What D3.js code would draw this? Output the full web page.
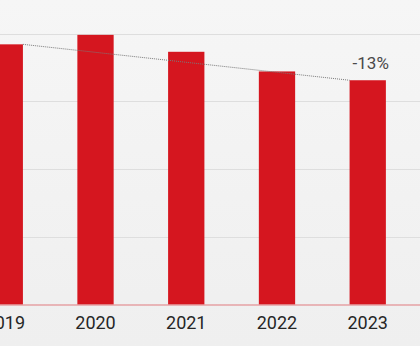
<!DOCTYPE html>
<html><head><meta charset="utf-8">
<script src="https://cdn.jsdelivr.net/npm/d3@7"></script>
<style>html,body{margin:0;padding:0;background:#f1f1f1;overflow:hidden}</style>
</head><body>
<script>
const years = ["2019","2020","2021","2022","2023"];
const values = [384, 398, 373, 344, 331];
const gridTicks = [0, 100, 200, 300, 400];
const changeLabel = "-13%";

const W = 420, H = 346;
const svg = d3.select("body").append("svg").attr("width", W).attr("height", H);

const defs = svg.append("defs");
const grad = defs.append("linearGradient").attr("id","bg").attr("x1",0).attr("y1",0).attr("x2",0).attr("y2",1);
grad.append("stop").attr("offset","0%").attr("stop-color","#f6f6f6");
grad.append("stop").attr("offset","100%").attr("stop-color","#efefef");
svg.append("rect").attr("width",W).attr("height",H).attr("fill","url(#bg)");

const x = d3.scaleBand().domain(years).range([-40.6, 413.1]).paddingInner(0.6).paddingOuter(0.3);
const y = d3.scaleLinear().domain([0, 400]).range([304.5, 33.5]);

// gridlines
svg.append("g").selectAll("line").data(gridTicks.slice(1)).join("line")
  .attr("x1", 0).attr("x2", W)
  .attr("y1", d => Math.round(y(d)) + 0.5).attr("y2", d => Math.round(y(d)) + 0.5)
  .attr("stroke", "#dedede").attr("stroke-width", 1);

// bars
svg.append("g").selectAll("rect").data(values).join("rect")
  .attr("x", (d,i) => x(years[i]))
  .attr("width", x.bandwidth())
  .attr("y", d => y(d))
  .attr("height", d => y(0) - y(d))
  .attr("fill", "#d5161f");

// baseline
svg.append("line").attr("x1",0).attr("x2",W).attr("y1",y(0)+0.5).attr("y2",y(0)+0.5)
  .attr("stroke","#e07a7f").attr("stroke-width",1.2);

// dotted trend line
const n = values.length - 1;
svg.append("line")
  .attr("x1", x(years[0]) + x.bandwidth()).attr("y1", y(values[0]))
  .attr("x2", x(years[n])).attr("y2", y(values[n]))
  .attr("stroke", "#7a7a7a").attr("stroke-width", 1).attr("stroke-dasharray", "1,1");

// change label
svg.append("text")
  .attr("x", x(years[n]) + x.bandwidth()/2 + 3).attr("y", y(values[n]) - 11)
  .attr("text-anchor","middle")
  .attr("font-family","Roboto, sans-serif").attr("font-size", 17)
  .attr("fill","#4a4a4a").text(changeLabel);

// x axis labels
const xAxis = d3.axisBottom(x).tickSize(0).tickPadding(0);
const gx = svg.append("g").attr("transform", `translate(0, 316)`).call(xAxis);
gx.select(".domain").remove();
gx.selectAll("text")
  .attr("font-family","Roboto, sans-serif").attr("font-size", 18)
  .attr("fill","#262626").attr("dy","0.71em");
</script>
</body></html>
